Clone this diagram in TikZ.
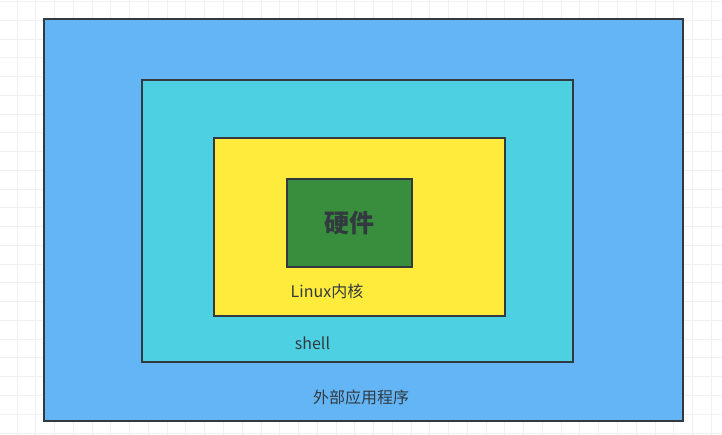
\documentclass[tikz,border=0pt]{standalone}
\usepackage{fontspec}
\setmainfont{Noto Sans CJK SC}
\usetikzlibrary{positioning}
\definecolor{appblue}{HTML}{64B5F6}
\definecolor{shellcyan}{HTML}{4DD0E1}
\definecolor{kernyellow}{HTML}{FFEB3B}
\definecolor{hwgreen}{HTML}{388E3C}
\definecolor{edge}{HTML}{323A40}
\definecolor{gridgray}{HTML}{F0F0F0}
\tikzset{
    layer/.style={draw=edge, line width=2.4pt, rectangle, inner sep=0pt},
    caption/.style={text=edge, font=\fontsize{16}{18}\selectfont}
}
\begin{document}
\begin{tikzpicture}[x=1pt,y=-1pt]
    \useasboundingbox (0,0) rectangle (722,435);
    \fill[white] (0,0) rectangle (722,435);
    % background grid
    \foreach \i in {0,...,38}
        \draw[gridgray, line width=0.7pt] (17+\i*18.76,0) -- (17+\i*18.76,435);
    \foreach \j in {0,...,23}
        \draw[gridgray, line width=0.7pt] (0,1.4+\j*18.76) -- (722,1.4+\j*18.76);

    \node[layer, fill=appblue, minimum width=639pt, minimum height=402pt] (app) at (363.5,220) {};
    \node[layer, fill=shellcyan, minimum width=431pt, minimum height=282pt] (shell) at (357.5,221) {};
    \node[layer, fill=kernyellow, minimum width=291pt, minimum height=178pt] (kern) at (359.5,227) {};
    \node[layer, fill=hwgreen, minimum width=125pt, minimum height=88pt] (hw) at (349.5,223) {};

    \node[text=edge, font=\fontsize{25}{28}\selectfont\bfseries] (hwtxt) at (hw) {硬件};
    \node[caption] (kerntxt) at (327,291) {Linux内核};
    \node[caption] (shelltxt) at (312.5,343) {shell};
    \node[caption] (apptxt) at (361,397) {外部应用程序};
\end{tikzpicture}
\end{document}
